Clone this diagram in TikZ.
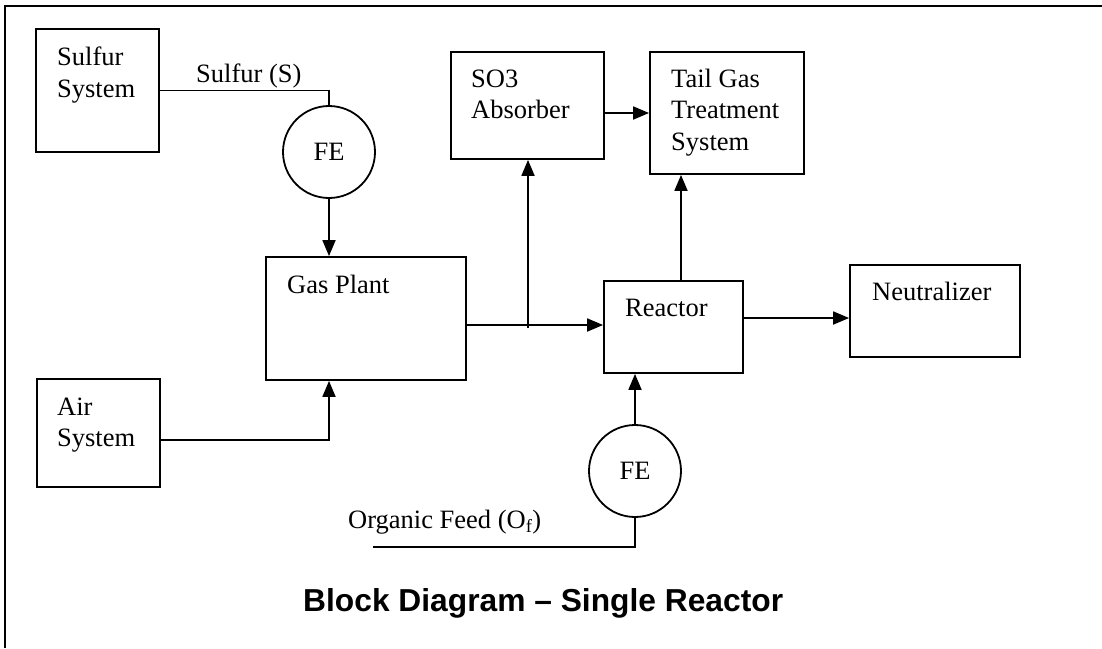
\documentclass[tikz,border=0pt]{standalone}
\usepackage{fontspec}
\setmainfont{Liberation Serif}
\newfontfamily\titlefont{Liberation Sans}
\usetikzlibrary{arrows.meta}

\tikzset{
  blk/.style={draw, rectangle, line width=1.8pt, inner sep=0pt},
  txt/.style={anchor=base west, align=left, inner sep=0pt, font=\fontsize{26.5}{31.5}\selectfont},
  fe/.style={draw, circle, line width=1.8pt, minimum size=92pt, inner sep=0pt, font=\fontsize{26.5}{31.5}\selectfont},
  flow/.style={line width=1.8pt},
  arr/.style={line width=1.8pt, -{Triangle[length=16pt,width=13pt]}}
}

\begin{document}
\begin{tikzpicture}[x=1pt,y=-1pt]
\useasboundingbox (0,0) rectangle (1102,648);
\draw[line width=2pt] (5,648) -- (5,6) -- (1102,6);

% blocks
\node[blk, minimum width=123pt, minimum height=123pt] (sulfur) at (97.5,90.5) {};
\node[blk, minimum width=123pt, minimum height=108pt] (air) at (98.5,433) {};
\node[blk, minimum width=200pt, minimum height=123pt] (gas) at (366,318.5) {};
\node[blk, minimum width=153pt, minimum height=107pt] (so3) at (527.5,105.5) {};
\node[blk, minimum width=154pt, minimum height=122pt] (tail) at (727,113) {};
\node[blk, minimum width=139pt, minimum height=92pt] (reactor) at (673.5,327) {};
\node[blk, minimum width=170pt, minimum height=92pt] (neut) at (935,311) {};
\node[fe] (fe1) at (329,152) {FE};
\node[fe] (fe2) at (635,471) {FE};

% block texts (base = last line)
\node[txt] (sulfurtxt) at (57,97) {Sulfur\\System};
\node[txt] (airtxt) at (57,446.5) {Air\\System};
\node[txt] (gastxt) at (287,293) {Gas Plant};
\node[txt] (so3txt) at (471,118.5) {SO3\\Absorber};
\node[txt] (tailtxt) at (671,150) {Tail Gas\\Treatment\\System};
\node[txt] (reactortxt) at (625,316) {Reactor};
\node[txt] (neuttxt) at (872,300) {Neutralizer};
\node[txt] (stxt) at (196,82) {Sulfur (S)};
\node[txt] (feedtxt) at (348,528) {Organic Feed (O\textsubscript{f})};

% streams
\coordinate (j) at (528,325);
\coordinate (feed) at (373,547);
\draw[flow] (sulfur.east) -| (fe1.north);
\draw[arr] (fe1.south) -- (fe1.south |- gas.north);
\draw[arr] ([yshift=-7pt]air.east) -| (fe1 |- gas.south);
\draw[flow] (gas.east |- j) -- (j);
\draw[arr] (j) -- (j -| reactor.west);
\draw[arr] ([yshift=-3pt]j) -- (j |- so3.south);
\draw[arr] (so3.east |- tail.west) -- (tail.west);
\draw[arr] ([xshift=7.5pt]reactor.north) -- ([xshift=7.5pt]reactor.north |- tail.south);
\draw[arr] ([yshift=9pt]reactor.east) -- ([yshift=9pt]reactor.east -| neut.west);
\draw[arr] (fe2.north) -- (fe2.north |- reactor.south);
\draw[flow] (feed) -| (fe2.south);

\node[anchor=base west, inner sep=0pt, font=\titlefont\bfseries\fontsize{31.75}{38}\selectfont] (title) at (303,611.7) {Block Diagram \textendash{} Single Reactor};
\end{tikzpicture}
\end{document}
